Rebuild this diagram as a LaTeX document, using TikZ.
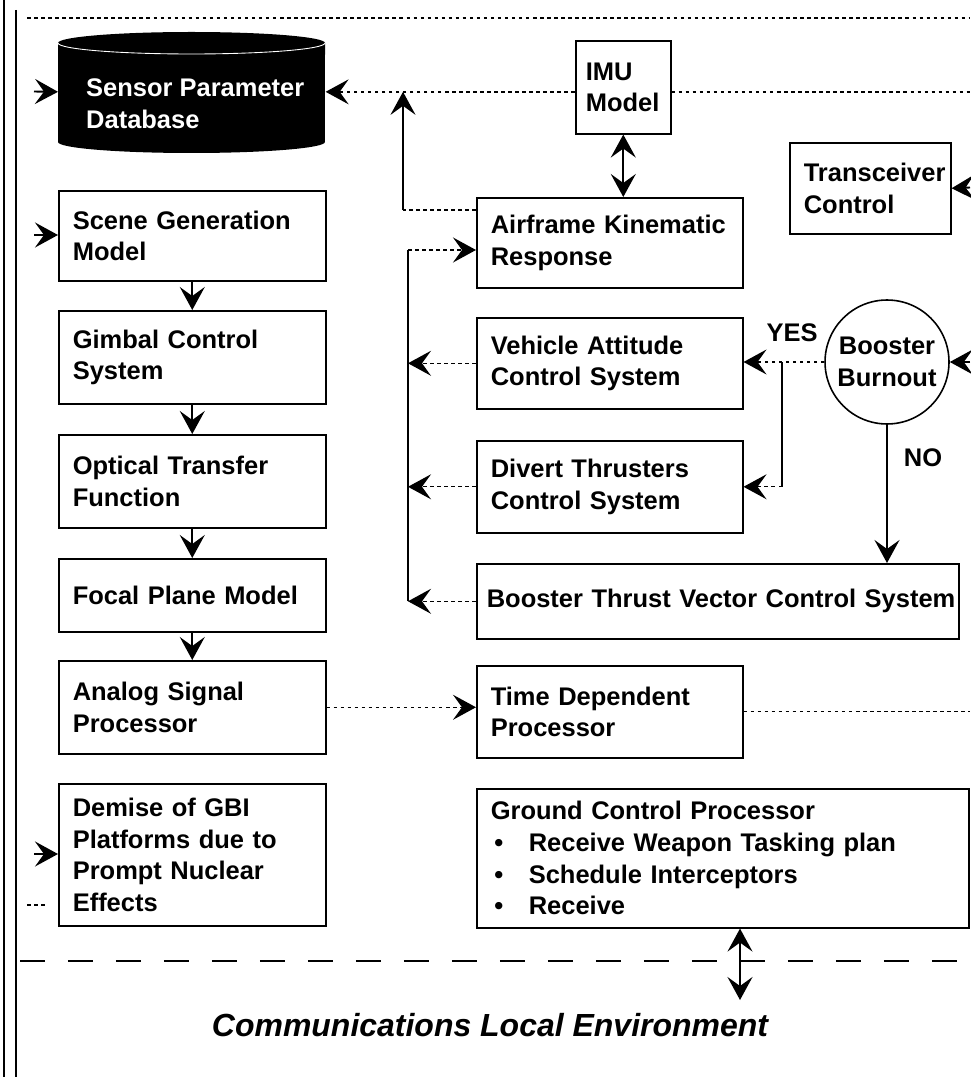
\documentclass[tikz,border=0pt]{standalone}
\usepackage{fontspec}
\setmainfont{Liberation Sans}
\usetikzlibrary{arrows.meta,calc}

\begin{document}
\begin{tikzpicture}[x=0.02cm,y=-0.02cm,
  big/.tip={Stealth[length=0.46cm,width=0.5cm,inset=0.18cm]},
  lbl/.style={font=\bfseries\fontsize{14.5}{18}\selectfont},
  box/.style={draw,line width=0.9pt,anchor=north west,inner xsep=0.28cm,inner ysep=0pt,
    align=left,text width=#1,lbl},
  flow/.style={line width=1.1pt},
  dotline/.style={line width=0.8pt,dash pattern=on 2pt off 2pt}]
  \useasboundingbox (0,0) rectangle (970,1077);
  % frame
  \draw[line width=1.6pt] (4,0) -- (4,1077);
  \draw[line width=1.1pt] (16,10) -- (16,1077);
  \draw[dotline] (27,18) -- (970,18);
  \draw[line width=1.4pt,dash pattern=on 0.5cm off 0.46cm] (20,961) -- (970,961);
  \coordinate (edgeR) at (970,0);
  % sensor parameter database
  \fill[black] (58,43) -- (58,142)
    arc[start angle=180,end angle=360,x radius=2.67cm,y radius=0.22cm]
    -- (325,43) arc[start angle=0,end angle=180,x radius=2.67cm,y radius=0.22cm] -- cycle;
  \draw[white,line width=0.5pt] (58,43) arc[start angle=180,end angle=360,x radius=2.67cm,y radius=0.22cm];
  \node[draw=none,anchor=north west,minimum width=5.34cm,minimum height=2.46cm,inner sep=0pt] (db) at (58,30) {};
  \node[lbl,text=white,align=left,anchor=west] (dbtext) at (80,104) {Sensor Parameter\\Database};
  % left column
  \node[box=4.78cm,minimum height=1.8cm] (scene) at (58,190) {Scene Generation\\Model};
  \node[box=4.78cm,minimum height=1.86cm] (gimbal) at (58,310) {Gimbal Control\\System};
  \node[box=4.78cm,minimum height=1.86cm] (optical) at (58,434) {Optical Transfer\\Function};
  \node[box=4.78cm,minimum height=1.46cm] (focal) at (58,558) {Focal Plane Model};
  \node[box=4.78cm,minimum height=1.86cm] (analog) at (58,660) {Analog Signal\\Processor};
  \node[box=4.78cm,minimum height=2.84cm] (demise) at (58,783) {Demise of GBI\\Platforms due to\\Prompt Nuclear\\Effects};
  % right column
  \node[box=1.5cm,inner xsep=0.2cm,minimum height=1.86cm] (imu) at (575,40) {IMU\\Model};
  \node[box=2.66cm,minimum height=1.82cm] (trans) at (789,142) {Transceiver\\Control};
  \node[box=4.76cm,minimum height=1.8cm] (air) at (476,197) {Airframe Kinematic\\Response};
  \node[box=4.76cm,minimum height=1.82cm] (veh) at (476,317) {Vehicle Attitude\\Control System};
  \node[box=4.76cm,minimum height=1.84cm] (div) at (476,440) {Divert Thrusters\\Control System};
  \node[box=9.24cm,inner xsep=0.2cm,minimum height=1.5cm] (tvc) at (476,563) {\mbox{Booster Thrust Vector Control System}};
  \node[box=4.76cm,minimum height=1.84cm] (tdp) at (476,665) {Time Dependent\\Processor};
  \node[box=9.28cm,minimum height=2.78cm] (gcp) at (476,788) {Ground Control Processor\\
    \makebox[0.76cm][l]{\hspace{2pt}\textbullet}Receive Weapon Tasking plan\\
    \makebox[0.76cm][l]{\hspace{2pt}\textbullet}Schedule Interceptors\\
    \makebox[0.76cm][l]{\hspace{2pt}\textbullet}Receive};
  \node[circle,draw,line width=0.9pt,minimum size=2.48cm,inner sep=0pt,align=center,lbl] (booster) at (887,362) {Booster\\Burnout};
  \node[lbl] (yes) at (792,333) {YES};
  \node[lbl] (no) at (923,458) {NO};
  % title
  \node[font=\bfseries\itshape\fontsize{18.2}{21}\selectfont] (env) at (490,1025) {Communications Local Environment};
  % inputs from the left
  \coordinate (inDb) at (34,91.5);
  \coordinate (inScene) at (34,235);
  \coordinate (inDemise) at (34,854);
  \draw[flow,-big] (inDb) -- (db.west);
  \draw[flow,-big] (inScene) -- (inScene -| scene.west);
  \draw[flow,-big] (inDemise) -- (inDemise -| demise.west);
  \draw[dotline] (27,905) -- (47,905);
  % sensor chain
  \draw[flow,-big] (scene) -- (gimbal);
  \draw[flow,-big] (gimbal) -- (optical);
  \draw[flow,-big] (optical) -- (focal);
  \draw[flow,-big] (focal) -- (analog);
  \draw[dotline,-big] (analog.east) -- (analog.east -| tdp.west);
  \draw[dotline] (tdp.east) -- (tdp.east -| edgeR);
  % database feedback
  \draw[dotline] (imu.east |- db.east) -- (db.east -| edgeR);
  \draw[dotline,-big] (imu.west |- db.east) -- (db.east);
  \coordinate (fbk) at (403,210);
  \draw[dotline] (fbk -| air.west) -- (fbk);
  \draw[flow,-big] (fbk) -- (fbk |- db.east);
  \draw[flow,big-big] (imu.south) -- (imu.south |- air.north);
  % control bus
  \coordinate (busT) at (408,250);
  \draw[flow] (busT |- tvc.west) -- (busT);
  \draw[dotline,-big] (busT) -- (busT -| air.west);
  \draw[dotline,-big] (veh.west) -- (veh.west -| busT);
  \draw[dotline,-big] (div.west) -- (div.west -| busT);
  \draw[dotline,-big] (tvc.west) -- (tvc.west -| busT);
  % booster burnout decision
  \coordinate (inTr) at (970,187.5);
  \coordinate (inB) at (970,362);
  \draw[flow,-big] (inTr) -- (trans.east);
  \draw[flow,-big] (inB) -- (booster.east);
  \draw[dotline,-big] (booster.west) -- (booster.west -| veh.east);
  \coordinate (yesJ) at (782,362);
  \draw[flow] (yesJ) -- (yesJ |- div.east);
  \draw[dotline,-big] (yesJ |- div.east) -- (div.east);
  \draw[flow,-big] (booster.south) -- (booster.south |- tvc.north);
  % ground link
  \coordinate (gcpEnd) at (740,1000);
  \draw[flow,big-big] (gcpEnd |- gcp.south) -- (gcpEnd);
\end{tikzpicture}
\end{document}
